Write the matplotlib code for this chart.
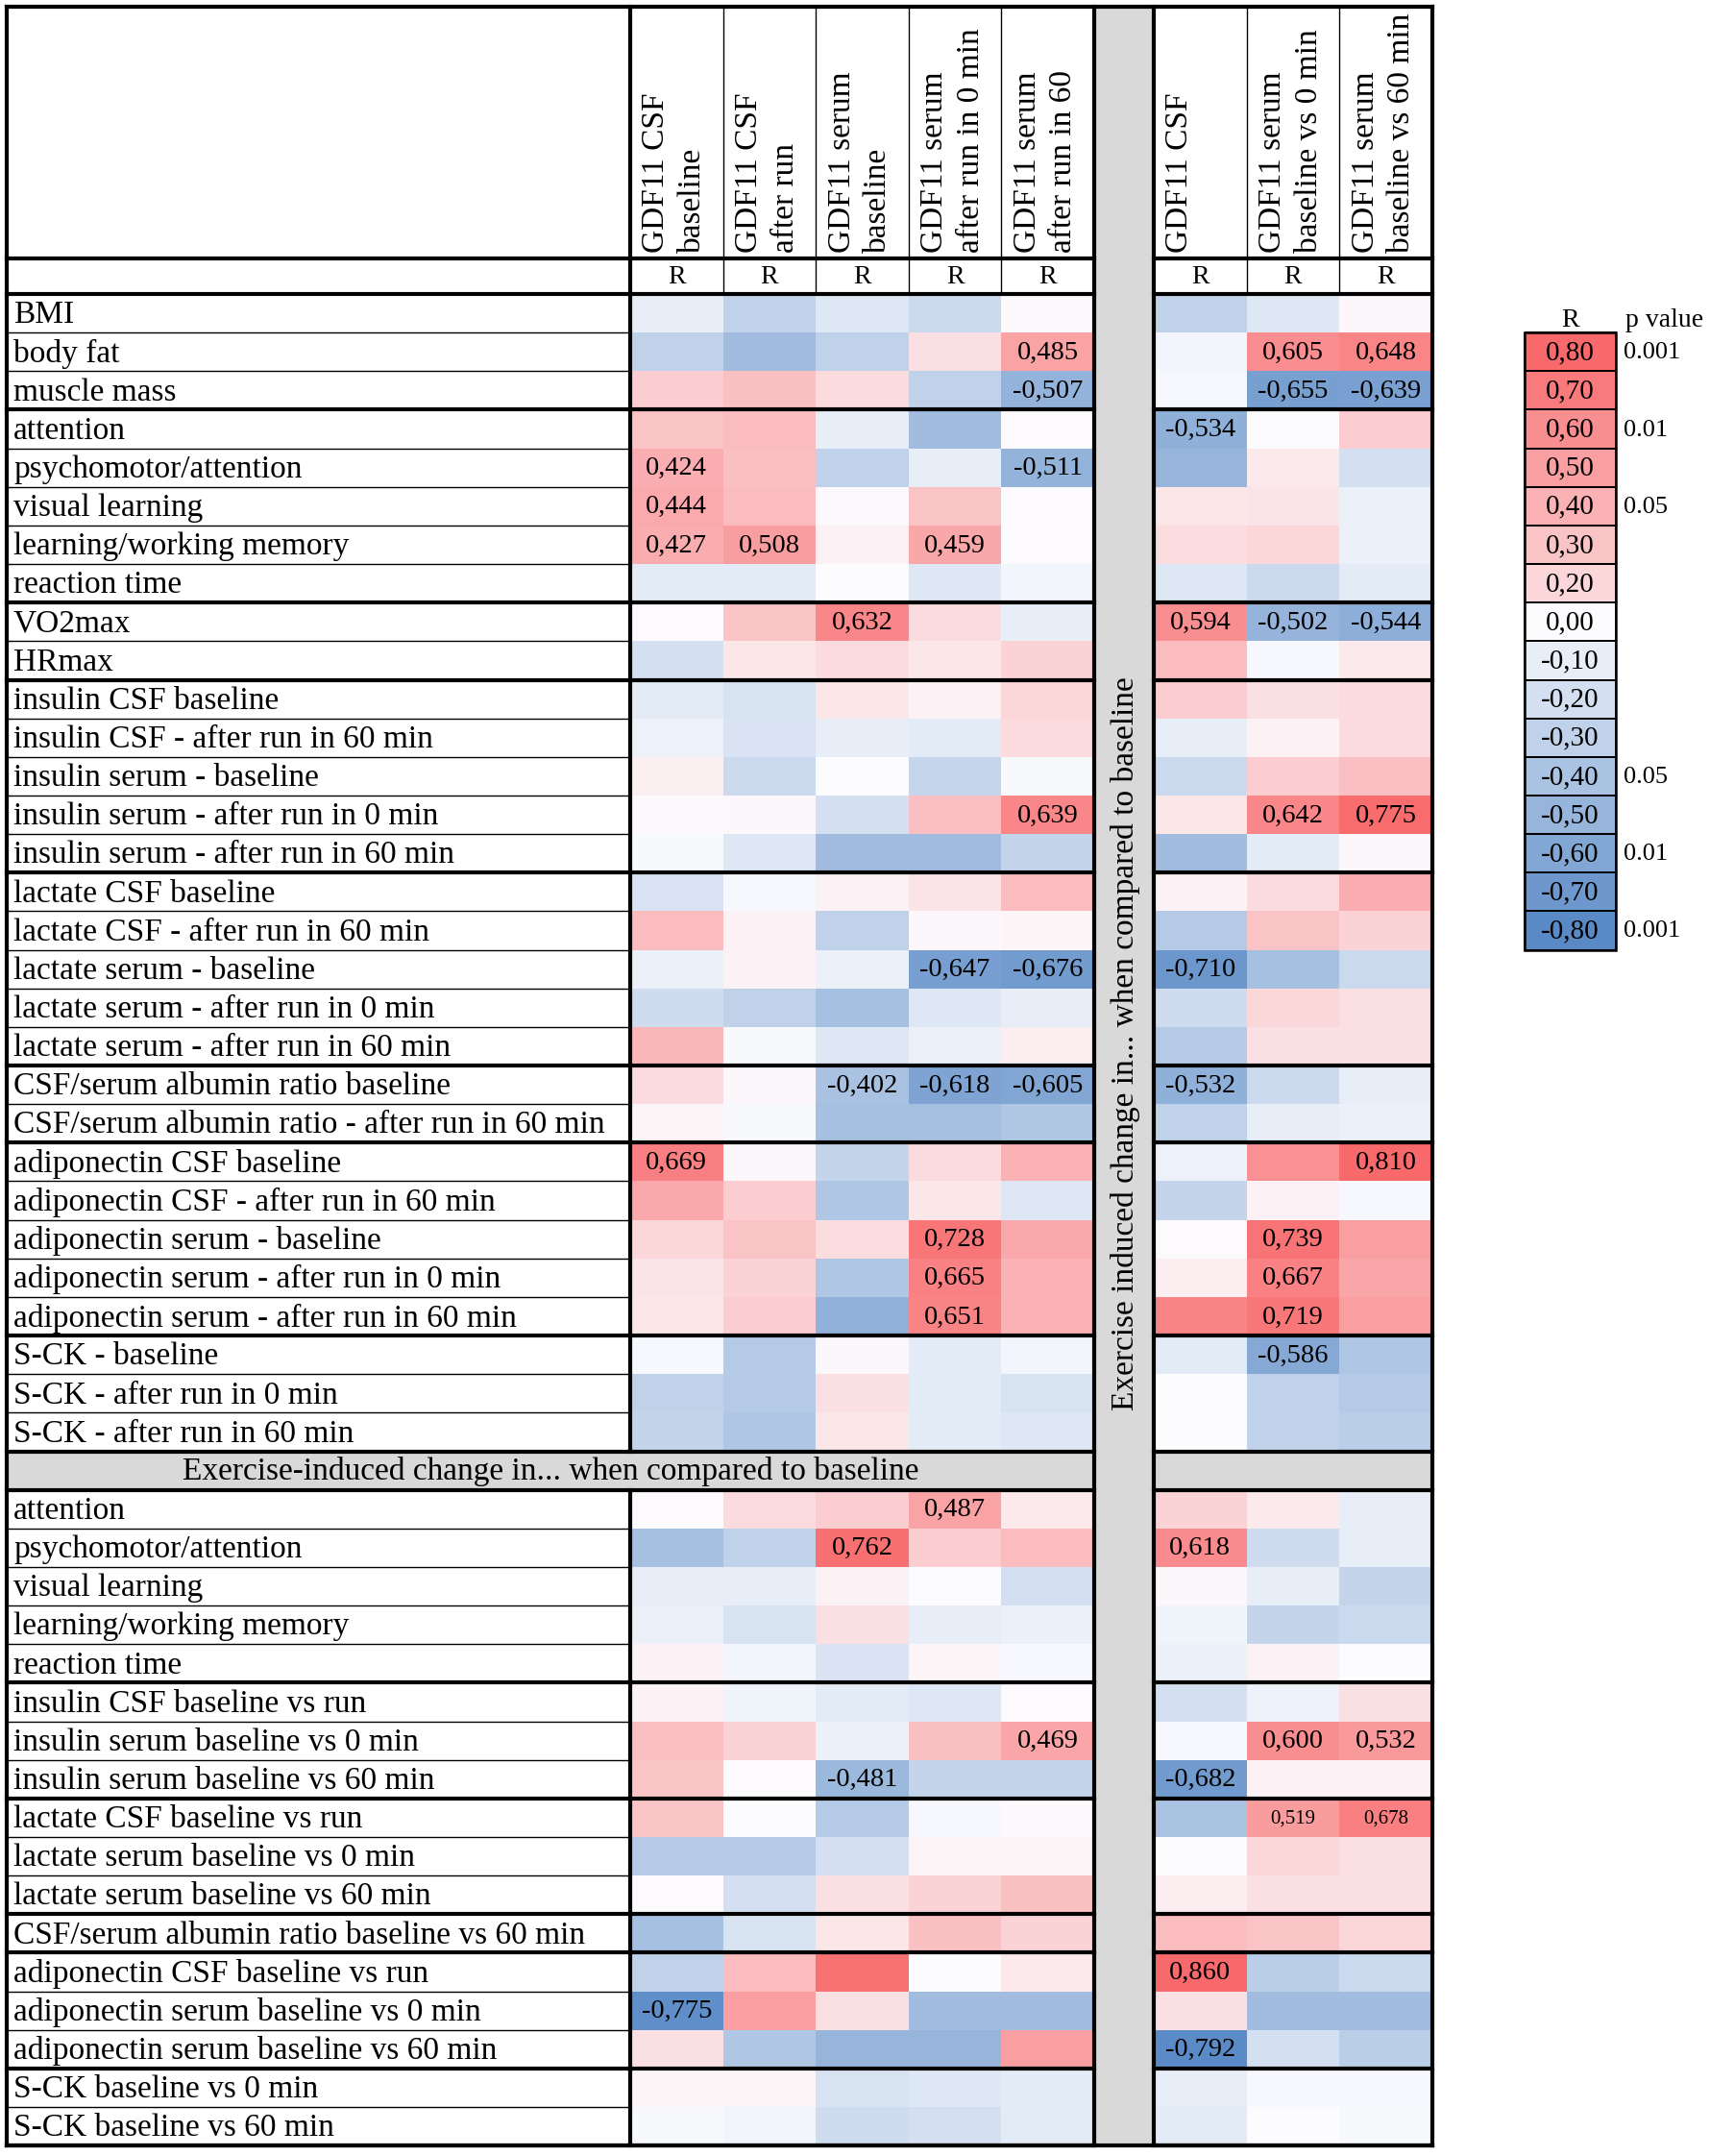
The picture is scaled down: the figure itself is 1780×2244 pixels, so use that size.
"""
Correlation table of GDF11 against clinical / exercise variables,
drawn as an Excel-like colour-scaled table.
"""

import numpy as np
import matplotlib.pyplot as plt
from matplotlib.colors import LinearSegmentedColormap, Normalize
from matplotlib.patches import Rectangle

plt.rcParams['font.family'] = ['Liberation Serif', 'DejaVu Serif']

# ---------- Data ---------- #
row_labels = [
    "BMI", "body fat", "muscle mass",
    "attention", "psychomotor/attention", "visual learning",
    "learning/working memory", "reaction time",
    "VO2max", "HRmax",
    "insulin CSF baseline", "insulin CSF - after run in 60 min",
    "insulin serum - baseline", "insulin serum - after run in 0 min",
    "insulin serum - after run in 60 min",
    "lactate CSF baseline", "lactate CSF - after run in 60 min",
    "lactate serum - baseline", "lactate serum - after run in 0 min",
    "lactate serum - after run in 60 min",
    "CSF/serum albumin ratio baseline",
    "CSF/serum albumin ratio - after run in 60 min",
    "adiponectin CSF baseline", "adiponectin CSF - after run in 60 min",
    "adiponectin serum - baseline", "adiponectin serum - after run in 0 min",
    "adiponectin serum - after run in 60 min",
    "S-CK - baseline", "S-CK - after run in 0 min", "S-CK - after run in 60 min",
    "attention", "psychomotor/attention", "visual learning",
    "learning/working memory", "reaction time",
    "insulin CSF baseline vs run", "insulin serum baseline vs 0 min",
    "insulin serum baseline vs 60 min",
    "lactate CSF baseline vs run", "lactate serum baseline vs 0 min",
    "lactate serum baseline vs 60 min",
    "CSF/serum albumin ratio baseline vs 60 min",
    "adiponectin CSF baseline vs run", "adiponectin serum baseline vs 0 min",
    "adiponectin serum baseline vs 60 min",
    "S-CK baseline vs 0 min", "S-CK baseline vs 60 min",
]
group_sizes = [3, 5, 2, 5, 5, 2, 5, 3, 5, 3, 3, 1, 3, 2]
n_top = 30  # rows before the "exercise-induced change" band

cols_left = ["GDF11 CSF\nbaseline", "GDF11 CSF\nafter run", "GDF11 serum\nbaseline",
             "GDF11 serum\nafter run in 0 min", "GDF11 serum\nafter run in 60"]
cols_right = ["GDF11 CSF", "GDF11 serum\nbaseline vs 0 min", "GDF11 serum\nbaseline vs 60 min"]

r_left = np.array([
    [-0.10, -0.30, -0.15, -0.25, 0.02],
    [-0.30, -0.45, -0.30, 0.15, 0.485],
    [0.25, 0.32, 0.18, -0.30, -0.507],
    [0.30, 0.35, -0.10, -0.45, 0.01],
    [0.424, 0.33, -0.30, -0.10, -0.511],
    [0.444, 0.35, 0.02, 0.30, 0.01],
    [0.427, 0.508, 0.05, 0.459, 0.01],
    [-0.12, -0.12, 0.00, -0.15, -0.05],
    [0.01, 0.30, 0.632, 0.18, -0.10],
    [-0.20, 0.12, 0.18, 0.12, 0.22],
    [-0.12, -0.18, 0.12, 0.05, 0.20],
    [-0.07, -0.17, -0.10, -0.12, 0.18],
    [0.07, -0.25, 0.00, -0.27, -0.02],
    [0.02, 0.03, -0.20, 0.33, 0.639],
    [-0.02, -0.15, -0.45, -0.45, -0.28],
    [-0.17, -0.03, 0.05, 0.13, 0.35],
    [0.35, 0.05, -0.30, 0.03, 0.04],
    [-0.08, 0.05, -0.08, -0.647, -0.676],
    [-0.22, -0.30, -0.42, -0.15, -0.10],
    [0.38, -0.02, -0.15, -0.08, 0.08],
    [0.18, 0.03, -0.402, -0.618, -0.605],
    [0.04, -0.02, -0.42, -0.42, -0.37],
    [0.669, 0.03, -0.28, 0.18, 0.40],
    [0.45, 0.25, -0.38, 0.12, -0.15],
    [0.20, 0.30, 0.17, 0.728, 0.45],
    [0.13, 0.22, -0.38, 0.665, 0.40],
    [0.12, 0.25, -0.52, 0.651, 0.40],
    [-0.03, -0.35, 0.03, -0.12, -0.05],
    [-0.30, -0.35, 0.15, -0.12, -0.18],
    [-0.28, -0.38, 0.12, -0.12, -0.15],
    [0.01, 0.18, 0.25, 0.487, 0.10],
    [-0.42, -0.30, 0.762, 0.25, 0.35],
    [-0.10, -0.10, 0.06, 0.00, -0.20],
    [-0.08, -0.18, 0.15, -0.10, -0.08],
    [0.05, -0.05, -0.17, 0.04, -0.03],
    [0.05, -0.06, -0.12, -0.15, 0.01],
    [0.33, 0.22, -0.08, 0.32, 0.469],
    [0.30, 0.01, -0.481, -0.28, -0.28],
    [0.30, 0.00, -0.35, -0.03, 0.02],
    [-0.35, -0.35, -0.20, 0.04, 0.04],
    [0.01, -0.20, 0.15, 0.22, 0.32],
    [-0.42, -0.18, 0.12, 0.32, 0.22],
    [-0.30, 0.35, 0.75, 0.00, 0.10],
    [-0.775, 0.50, 0.15, -0.45, -0.45],
    [0.15, -0.38, -0.50, -0.50, 0.50],
    [0.04, 0.04, -0.18, -0.15, -0.12],
    [-0.02, -0.05, -0.22, -0.20, -0.12],
])

r_right = np.array([
    [-0.30, -0.15, 0.03],
    [-0.05, 0.605, 0.648],
    [-0.03, -0.655, -0.639],
    [-0.534, 0.00, 0.25],
    [-0.50, 0.10, -0.20],
    [0.12, 0.13, -0.08],
    [0.17, 0.20, -0.08],
    [-0.15, -0.25, -0.12],
    [0.594, -0.502, -0.544],
    [0.35, -0.03, 0.10],
    [0.25, 0.15, 0.18],
    [-0.10, 0.05, 0.18],
    [-0.25, 0.25, 0.33],
    [0.12, 0.642, 0.775],
    [-0.45, -0.12, 0.03],
    [0.06, 0.18, 0.42],
    [-0.35, 0.30, 0.22],
    [-0.710, -0.42, -0.25],
    [-0.22, 0.20, 0.15],
    [-0.35, 0.15, 0.15],
    [-0.532, -0.25, -0.10],
    [-0.30, -0.10, -0.08],
    [-0.07, 0.58, 0.810],
    [-0.28, 0.05, -0.03],
    [0.01, 0.739, 0.50],
    [0.08, 0.667, 0.47],
    [0.65, 0.719, 0.50],
    [-0.12, -0.586, -0.38],
    [0.00, -0.30, -0.35],
    [0.00, -0.30, -0.32],
    [0.22, 0.10, -0.10],
    [0.618, -0.22, -0.10],
    [0.03, -0.10, -0.28],
    [-0.06, -0.28, -0.25],
    [-0.08, 0.06, 0.00],
    [-0.20, -0.07, 0.15],
    [-0.03, 0.600, 0.532],
    [-0.682, 0.05, 0.05],
    [-0.40, 0.519, 0.678],
    [0.00, 0.20, 0.15],
    [0.08, 0.15, 0.15],
    [0.35, 0.30, 0.20],
    [0.860, -0.32, -0.25],
    [0.15, -0.45, -0.45],
    [-0.792, -0.20, -0.32],
    [-0.10, -0.03, -0.03],
    [-0.12, 0.00, -0.02],
])

# significant correlations that carry a printed value (row, column)
sig_left = [(1, 4), (2, 4), (4, 0), (4, 4), (5, 0), (6, 0), (6, 1), (6, 3), (8, 2),
            (13, 4), (17, 3), (17, 4), (20, 2), (20, 3), (20, 4), (22, 0), (24, 3),
            (25, 3), (26, 3), (30, 3), (31, 2), (36, 4), (37, 2), (43, 0)]
sig_right = [(1, 1), (1, 2), (2, 1), (2, 2), (3, 0), (8, 0), (8, 1), (8, 2), (13, 1),
             (13, 2), (17, 0), (20, 0), (22, 2), (24, 1), (25, 1), (26, 1), (27, 1),
             (31, 0), (36, 1), (36, 2), (37, 0), (38, 1), (38, 2), (42, 0), (44, 0)]
small_right = [(38, 1), (38, 2)]

legend_r = [0.80, 0.70, 0.60, 0.50, 0.40, 0.30, 0.20, 0.00,
            -0.10, -0.20, -0.30, -0.40, -0.50, -0.60, -0.70, -0.80]
legend_p = ["0.001", "", "0.01", "", "0.05", "", "", "",
            "", "", "", "0.05", "", "0.01", "", "0.001"]

band_text = "Exercise-induced change in... when compared to baseline"
vert_text = "Exercise induced change in... when compared to baseline"

# ---------- Layout (pixels) ---------- #
W, H = 1781, 2244
X0, XL = 7, 656
xl_edges = np.linspace(656, 1139, 6)
GX0, GX1 = 1139, 1201
xr_edges = np.linspace(1201, 1491, 4)
XR = 1491
Y0, YH, YR = 7, 269, 306
ROWH = 40.15
n_disp = len(row_labels) + 1
y_edges = YR + ROWH * np.arange(n_disp + 1)
YB = y_edges[-1]
LX0, LX1 = 1587, 1682
GRAY = '#D9D9D9'
THICK, THIN = 3.0, 1.0
FS = 24

cmap = LinearSegmentedColormap.from_list('xl', ['#5A8AC6', '#FCFCFF', '#F8696B'])
norm = Normalize(-0.8, 0.8)

# insert the grey band row into the displayed grid
def with_band(a):
    return np.ma.masked_invalid(np.insert(a.astype(float), n_top, np.nan, axis=0))

disp_left = with_band(r_left)
disp_right = with_band(r_right)

def disp_row(i):
    return i if i < n_top else i + 1

# ---------- Plot ---------- #
fig = plt.figure(figsize=(W / 100, H / 100), dpi=100)
ax = fig.add_axes([0, 0, 1, 1])
ax.set_xlim(0, W)
ax.set_ylim(H, 0)
ax.axis('off')

ax.pcolormesh(xl_edges, y_edges, disp_left, cmap=cmap, norm=norm)
ax.pcolormesh(xr_edges, y_edges, disp_right, cmap=cmap, norm=norm)

# grey vertical column and grey band row
ax.add_patch(Rectangle((GX0, Y0), GX1 - GX0, YB - Y0, color=GRAY, zorder=1))
yb0, yb1 = y_edges[n_top], y_edges[n_top + 1]
ax.add_patch(Rectangle((X0, yb0), GX0 - X0, yb1 - yb0, color=GRAY, zorder=1))
ax.add_patch(Rectangle((GX1, yb0), XR - GX1, yb1 - yb0, color=GRAY, zorder=1))
ax.text((X0 + GX0) / 2, (yb0 + yb1) / 2 + 1, band_text, ha='center', va='center',
        fontsize=FS, zorder=5)
ax.text((GX0 + GX1) / 2 + 2, 1086, vert_text, rotation=90,
        ha='center', va='center', fontsize=FS)

# row labels
for i, lab in enumerate(row_labels):
    k = disp_row(i)
    ax.text(X0 + 7, (y_edges[k] + y_edges[k + 1]) / 2 + 2, lab,
            ha='left', va='center', fontsize=FS)

# printed values
def fmt(v):
    return f"{v:.3f}".replace('.', ',')

for (i, j) in sig_left:
    k = disp_row(i)
    ax.text((xl_edges[j] + xl_edges[j + 1]) / 2, (y_edges[k] + y_edges[k + 1]) / 2 + 1,
            fmt(r_left[i, j]), ha='center', va='center', fontsize=20.5)
for (i, j) in sig_right:
    k = disp_row(i)
    fs = 15 if (i, j) in small_right else 20.5
    ax.text((xr_edges[j] + xr_edges[j + 1]) / 2, (y_edges[k] + y_edges[k + 1]) / 2 + 1,
            fmt(r_right[i, j]), ha='center', va='center', fontsize=fs)

# column headers
for edges, labels in ((xl_edges, cols_left), (xr_edges, cols_right)):
    for j, lab in enumerate(labels):
        ax.text(edges[j] + 12, YH - 6, lab, rotation=90, ha='left', va='bottom',
                multialignment='left', fontsize=FS, linespacing=1.3)
        ax.text((edges[j] + edges[j + 1]) / 2, (YH + YR) / 2 + 1, "R",
                ha='center', va='center', fontsize=20)

# ---------- Grid lines ---------- #
# thin lines between label rows
for k in range(1, n_disp):
    ax.plot([X0, XL], [y_edges[k]] * 2, color='black', lw=THIN)

# thick group separators
thick_rows = [0]
for b in np.cumsum(group_sizes):
    thick_rows.append(disp_row(b - 1) + 1)
thick_rows.append(n_top + 1)
for k in thick_rows:
    y = y_edges[k]
    ax.plot([X0, GX0], [y, y], color='black', lw=THICK)
    ax.plot([GX1, XR], [y, y], color='black', lw=THICK)
ax.plot([X0, GX0], [YH, YH], color='black', lw=THICK)
ax.plot([GX1, XR], [YH, YH], color='black', lw=THICK)
for y in (Y0, YB):
    ax.plot([X0, XR], [y, y], color='black', lw=THICK)

# vertical lines (label column border is interrupted by the grey band)
for x in (X0, GX0, GX1, XR):
    ax.plot([x, x], [Y0, YB], color='black', lw=THICK)
ax.plot([XL, XL], [Y0, yb0], color='black', lw=THICK)
ax.plot([XL, XL], [yb1, YB], color='black', lw=THICK)
for x in list(xl_edges[1:-1]) + list(xr_edges[1:-1]):
    ax.plot([x, x], [Y0, YR], color='black', lw=THIN)

# ---------- Legend ---------- #
ly_edges = y_edges[1:len(legend_r) + 2]
ax.pcolormesh([LX0, LX1], ly_edges, np.array(legend_r)[:, None], cmap=cmap, norm=norm,
              edgecolors='black', linewidth=1.2)
ax.add_patch(Rectangle((LX0, ly_edges[0]), LX1 - LX0, ly_edges[-1] - ly_edges[0],
                       fill=False, lw=1.8, ec='black'))
ax.text((LX0 + LX1) / 2, ly_edges[0] - 13, "R", ha='center', va='center', fontsize=20)
ax.text(LX1 + 10, ly_edges[0] - 13, "p value", ha='left', va='center', fontsize=20)
for k, (v, p) in enumerate(zip(legend_r, legend_p)):
    yc = (ly_edges[k] + ly_edges[k + 1]) / 2 + 1
    ax.text((LX0 + LX1) / 2, yc, f"{v:.2f}".replace('.', ','), ha='center', va='center',
            fontsize=21)
    if p:
        ax.text(LX1 + 8, yc, p, ha='left', va='center', fontsize=19)

fig.savefig("out.png", dpi=100, facecolor='white')
